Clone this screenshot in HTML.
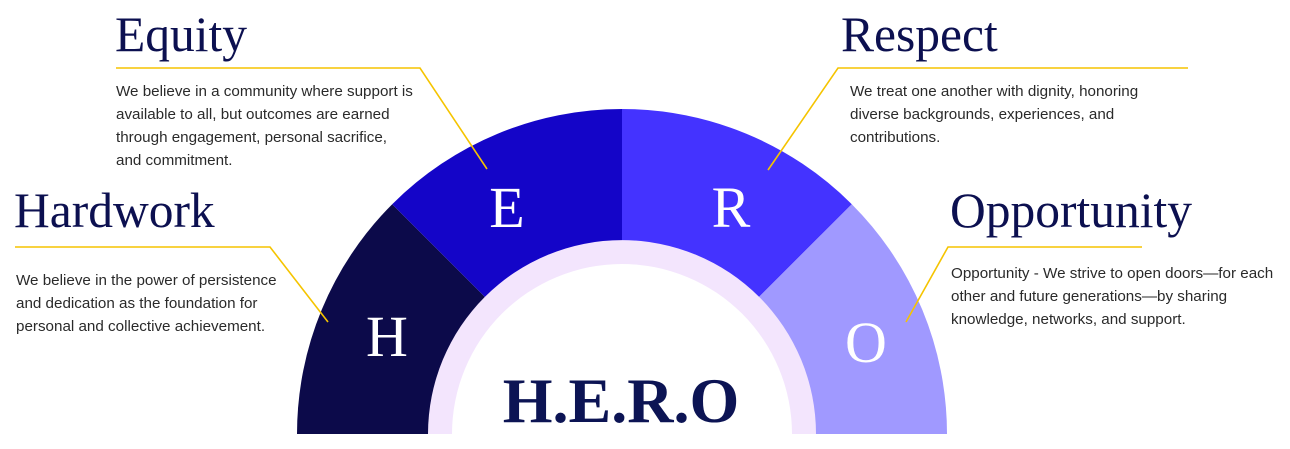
<!DOCTYPE html>
<html><head><meta charset="utf-8"><style>
html,body{margin:0;padding:0;background:#fff;}
svg{display:block}
.t{font-family:"Liberation Serif",serif;font-size:49.5px;fill:#0c1050}
.d{font-family:"Liberation Sans",sans-serif;font-size:15.2px;fill:#2a2a2a}
.l{font-family:"Liberation Serif",serif;font-size:58px;fill:#fff}
</style></head><body>
<svg width="1290" height="449" viewBox="0 0 1290 449">
<path d="M622,434 L297,434 A325,325 0 0 1 392.2,204.2 Z" fill="#0c0a4a"/>
<path d="M622,434 L392.2,204.2 A325,325 0 0 1 622,109 Z" fill="#1405c8"/>
<path d="M622,434 L622,109 A325,325 0 0 1 851.8,204.2 Z" fill="#4433ff"/>
<path d="M622,434 L851.8,204.2 A325,325 0 0 1 947,434 Z" fill="#a099ff"/>
<path d="M428,434 A194,194 0 0 1 816,434 Z" fill="#f3e5fd"/>
<path d="M452,434 A170,170 0 0 1 792,434 Z" fill="#fff"/>
<text class="l" x="387" y="356" text-anchor="middle">H</text>
<text class="l" x="507" y="227" text-anchor="middle">E</text>
<text class="l" x="731" y="227" text-anchor="middle">R</text>
<text class="l" x="866" y="362" text-anchor="middle">O</text>
<text x="621" y="422" text-anchor="middle" font-family="Liberation Serif,serif" font-weight="bold" font-size="64" fill="#0c1454">H.E.R.O</text>
<g stroke="#f5c400" stroke-width="1.6" fill="none">
<polyline points="116,68 420,68 487,169"/>
<polyline points="15,247 270,247 328,322"/>
<polyline points="1188,68 838,68 768,170"/>
<polyline points="1142,247 948,247 906,322"/>
</g>
<text class="t" x="115" y="51">Equity</text>
<text class="t" x="14" y="227">Hardwork</text>
<text class="t" x="841" y="51">Respect</text>
<text class="t" x="950" y="227">Opportunity</text>
<g class="d">
<text x="116" y="96">We believe in a community where support is</text>
<text x="116" y="119">available to all, but outcomes are earned</text>
<text x="116" y="142">through engagement, personal sacrifice,</text>
<text x="116" y="165">and commitment.</text>
<text x="16" y="285">We believe in the power of persistence</text>
<text x="16" y="308">and dedication as the foundation for</text>
<text x="16" y="331">personal and collective achievement.</text>
<text x="850" y="96">We treat one another with dignity, honoring</text>
<text x="850" y="119">diverse backgrounds, experiences, and</text>
<text x="850" y="142">contributions.</text>
<text x="951" y="278">Opportunity - We strive to open doors—for each</text>
<text x="951" y="301">other and future generations—by sharing</text>
<text x="951" y="324">knowledge, networks, and support.</text>
</g>
</svg>
</body></html>
